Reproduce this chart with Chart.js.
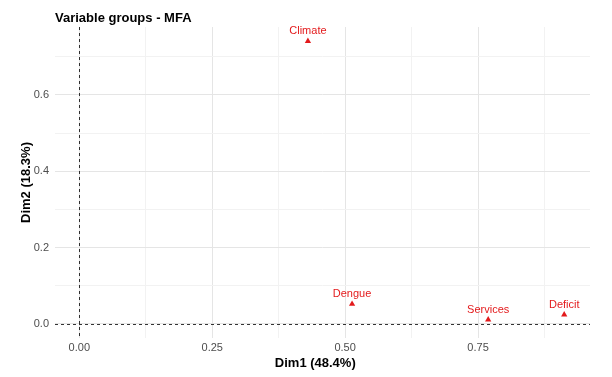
<!DOCTYPE html>
<html>
<head>
<meta charset="utf-8">
<script src="https://cdn.jsdelivr.net/npm/chart.js@4.4.1/dist/chart.umd.min.js"></script>
<style>
  html, body { margin: 0; padding: 0; background: #fff; }
  #wrap { width: 612px; height: 377px; position: relative; }
</style>
</head>
<body>
<div id="wrap"><canvas id="c" width="612" height="377"></canvas></div>
<script>
const groupNames = ["Climate", "Dengue", "Services", "Deficit"];
const dim1Values = [0.430, 0.513, 0.769, 0.912];
const dim2Values = [0.741, 0.052, 0.011, 0.024];
const xTickValues = [0, 0.125, 0.25, 0.375, 0.5, 0.625, 0.75, 0.875];
const xTickLabels = ["0.00", "", "0.25", "", "0.50", "", "0.75", ""];
const yTickValues = [0, 0.1, 0.2, 0.3, 0.4, 0.5, 0.6, 0.7];
const yTickLabels = ["0.0", "", "0.2", "", "0.4", "", "0.6", ""];

const RED = "#E31A1C";
const FONT = "'Liberation Sans', Arial, Helvetica, sans-serif";

const refLines = {
  id: "refLines",
  beforeDatasetsDraw(chart) {
    const {ctx, chartArea, scales} = chart;
    ctx.save();
    ctx.strokeStyle = "#000";
    ctx.lineWidth = 0.8;
    ctx.setLineDash([3, 3]);
    const x0 = Math.round(scales.x.getPixelForValue(0)) + 0.5;
    const y0 = Math.round(scales.y.getPixelForValue(0)) + 0.5;
    ctx.beginPath();
    ctx.moveTo(x0, chartArea.top); ctx.lineTo(x0, chartArea.bottom);
    ctx.moveTo(chartArea.left, y0); ctx.lineTo(chartArea.right, y0);
    ctx.stroke();
    ctx.restore();
  }
};

const pointLabels = {
  id: "pointLabels",
  afterDatasetsDraw(chart) {
    const {ctx} = chart;
    const meta = chart.getDatasetMeta(0);
    ctx.save();
    ctx.fillStyle = RED;
    ctx.font = "11px " + FONT;
    ctx.textAlign = "center";
    ctx.textBaseline = "middle";
    meta.data.forEach((el, i) => {
      ctx.fillText(groupNames[i], el.x, el.y - 10);
    });
    ctx.restore();
  }
};

function gridColor(ctx) {
  const v = ctx.tick && ctx.tick.value;
  const major = ctx.scale.axis === "x"
    ? Math.abs((v / 0.25) - Math.round(v / 0.25)) < 1e-6
    : Math.abs((v / 0.2) - Math.round(v / 0.2)) < 1e-6;
  return major ? "#e5e5e5" : "#f2f2f2";
}

new Chart(document.getElementById("c"), {
  type: "scatter",
  data: {
    datasets: [{
      data: dim1Values.map((x, i) => ({x: x, y: dim2Values[i]})),
      backgroundColor: RED,
      borderColor: RED,
      pointStyle: "triangle",
      pointRadius: 3.6,
      pointHoverRadius: 3.6,
      borderWidth: 0
    }]
  },
  options: {
    responsive: false,
    animation: false,
    events: [],
    layout: { padding: { left: 0, right: 22, top: 0, bottom: 0 } },
    plugins: {
      legend: { display: false },
      tooltip: { enabled: false },
      title: {
        display: true,
        text: "Variable groups - MFA",
        align: "start",
        fullSize: false,
        color: "#000",
        font: { family: FONT, size: 13, weight: "bold" },
        padding: { top: 11, bottom: 0.4 }
      }
    },
    scales: {
      x: {
        type: "linear",
        min: -0.0457,
        max: 0.9605,
        afterFit(scale) { scale.height = 39; },
        afterBuildTicks(scale) { scale.ticks = xTickValues.map(v => ({value: v})); },
        ticks: {
          autoSkip: false,
          maxRotation: 0,
          color: "#4d4d4d",
          font: { family: FONT, size: 11 },
          padding: 3,
          callback: (v, i) => xTickLabels[i]
        },
        grid: { color: gridColor, lineWidth: 1, drawTicks: false },
        border: { display: false },
        title: {
          display: true,
          text: "Dim1 (48.4%)    ",
          color: "#000",
          font: { family: FONT, size: 13, weight: "bold" },
          padding: { top: 0, bottom: 5.5 }
        }
      },
      y: {
        type: "linear",
        min: -0.037,
        max: 0.778,
        afterFit(scale) { scale.width = 55; },
        afterBuildTicks(scale) { scale.ticks = yTickValues.map(v => ({value: v})); },
        ticks: {
          autoSkip: false,
          color: "#4d4d4d",
          font: { family: FONT, size: 11 },
          padding: 6,
          callback: (v, i) => yTickLabels[i]
        },
        grid: { color: gridColor, lineWidth: 1, drawTicks: false },
        border: { display: false },
        title: {
          display: true,
          text: "Dim2 (18.3%)",
          color: "#000",
          font: { family: FONT, size: 13, weight: "bold" },
          padding: { top: 19, bottom: 0 }
        }
      }
    }
  },
  plugins: [refLines, pointLabels]
});
</script>
</body>
</html>
